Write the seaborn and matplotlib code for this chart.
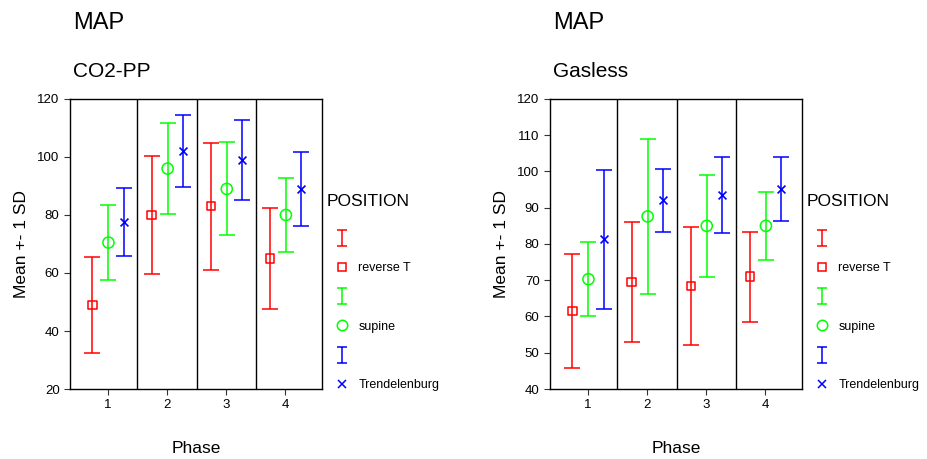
import pandas as pd
import matplotlib
matplotlib.use("Agg")
import matplotlib.pyplot as plt
from matplotlib.path import Path
import seaborn as sns

# Phase categories and POSITION groups
phases = [1, 2, 3, 4]
positions = ["reverse T", "supine", "Trendelenburg"]

# CO2-PP panel: mean and SD per position, one value per phase
co2_mean = {"reverse T": [49, 80, 83, 65],
            "supine": [70.5, 96, 89, 80],
            "Trendelenburg": [77.5, 102, 99, 89]}
co2_sd = {"reverse T": [16.5, 20.2, 21.8, 17.3],
          "supine": [13, 15.7, 16, 12.9],
          "Trendelenburg": [11.7, 12.5, 13.8, 12.7]}

# Gasless panel
gas_mean = {"reverse T": [61.5, 69.5, 68.4, 71],
            "supine": [70.3, 87.6, 85, 85],
            "Trendelenburg": [81.3, 92, 93.5, 95.1]}
gas_sd = {"reverse T": [15.8, 16.6, 16.3, 12.4],
          "supine": [10.3, 21.4, 14, 9.3],
          "Trendelenburg": [19.2, 8.7, 10.5, 8.8]}

colors = {"reverse T": "#ff0000", "supine": "#00ff00", "Trendelenburg": "#0000ff"}
markers = {"reverse T": "s", "supine": "o", "Trendelenburg": "x"}
marker_area = {"reverse T": 36, "supine": 64, "Trendelenburg": 32}
offsets = {"reverse T": -0.26, "supine": 0.01, "Trendelenburg": 0.27}

# little "I" glyph used for the error bar entries of the legend
ibar = Path([(-0.6, -1), (0.6, -1), (0, -1), (0, 1), (-0.6, 1), (0.6, 1)],
            [Path.MOVETO, Path.LINETO, Path.MOVETO, Path.LINETO,
             Path.MOVETO, Path.LINETO])


def to_frame(means, sds):
    rows = []
    for pos in positions:
        for ph, m, s in zip(phases, means[pos], sds[pos]):
            rows.append({"Phase": ph, "POSITION": pos, "mean": m, "sd": s})
    df = pd.DataFrame(rows)
    df["x"] = df["Phase"] + df["POSITION"].map(offsets)
    return df


def draw_panel(ax, df, subtitle, ylim, yticks):
    handles = []
    labels = []
    for pos in positions:
        d = df[df["POSITION"] == pos]
        ax.errorbar(d["x"], d["mean"], yerr=d["sd"], fmt="none",
                    ecolor=colors[pos], elinewidth=1.1, capsize=6, capthick=1.1)
        mk = markers[pos]
        if mk == "x":
            sns.scatterplot(x=d["x"], y=d["mean"], marker="x", color=colors[pos],
                            s=marker_area[pos], linewidth=1.2, ax=ax, zorder=3)
        else:
            sns.scatterplot(x=d["x"], y=d["mean"], marker=mk,
                            facecolor="none", edgecolor=colors[pos],
                            s=marker_area[pos], linewidth=1.1, ax=ax, zorder=3)
        h_bar = plt.Line2D([], [], linestyle="none", marker=ibar, color=colors[pos],
                           markersize=11, markeredgewidth=1.1)
        h_mk = plt.Line2D([], [], linestyle="none", marker=mk, color=colors[pos],
                          markerfacecolor="none",
                          markersize={"s": 5.5, "o": 7.5, "x": 5.5}[mk],
                          markeredgewidth=1.1)
        handles += [h_bar, h_mk]
        labels += ["", pos]

    for b in [1.5, 2.5, 3.5]:
        ax.axvline(b, color="black", lw=1.0)
    ax.set_xlim(0.36, 4.62)
    ax.set_ylim(*ylim)
    ax.set_xticks(phases)
    ax.set_yticks(yticks)
    ax.tick_params(axis="both", labelsize=9.5, length=4, width=0.8, direction="out",
                   color="#333333", left=True, bottom=True)
    ax.set_xlabel("Phase", fontsize=12.5, labelpad=21)
    ax.set_ylabel("Mean +- 1 SD", fontsize=12.5, labelpad=6)
    for sp in ax.spines.values():
        sp.set_color("black")
        sp.set_linewidth(1.0)
        sp.set_visible(True)
    ax.grid(False)
    ax.text(0.012, 1.076, subtitle, transform=ax.transAxes, fontsize=15,
            ha="left", va="baseline")
    ax.text(0.012, 1.242, "MAP", transform=ax.transAxes, fontsize=17,
            ha="left", va="baseline")
    ax.text(1.0 + 5 / 252, (389 - 201) / 290, "POSITION", transform=ax.transAxes,
            fontsize=12.5, ha="left", va="center")
    ax.legend(handles, labels, loc="upper left",
              bbox_to_anchor=(1.0 + 5 / 252, (389 - 233) / 290), frameon=False,
              fontsize=9, handlelength=2.4, handletextpad=0.1,
              labelspacing=1.38, borderaxespad=0, borderpad=0)


sns.set_theme(style="white")
plt.rcParams["font.family"] = ["Liberation Sans", "DejaVu Sans"]
plt.rcParams["text.color"] = "black"
plt.rcParams["axes.labelcolor"] = "black"
plt.rcParams["xtick.color"] = "black"
plt.rcParams["ytick.color"] = "black"

fig = plt.figure(figsize=(9.28, 4.59), dpi=100)
ax1 = fig.add_axes([70 / 928, 70 / 459, 252 / 928, 290 / 459])
ax2 = fig.add_axes([550 / 928, 70 / 459, 252 / 928, 290 / 459])

draw_panel(ax1, to_frame(co2_mean, co2_sd), "CO2-PP", (20, 120),
           [20, 40, 60, 80, 100, 120])
draw_panel(ax2, to_frame(gas_mean, gas_sd), "Gasless", (40, 120),
           [40, 50, 60, 70, 80, 90, 100, 110, 120])

fig.savefig("out.png", dpi=100)
